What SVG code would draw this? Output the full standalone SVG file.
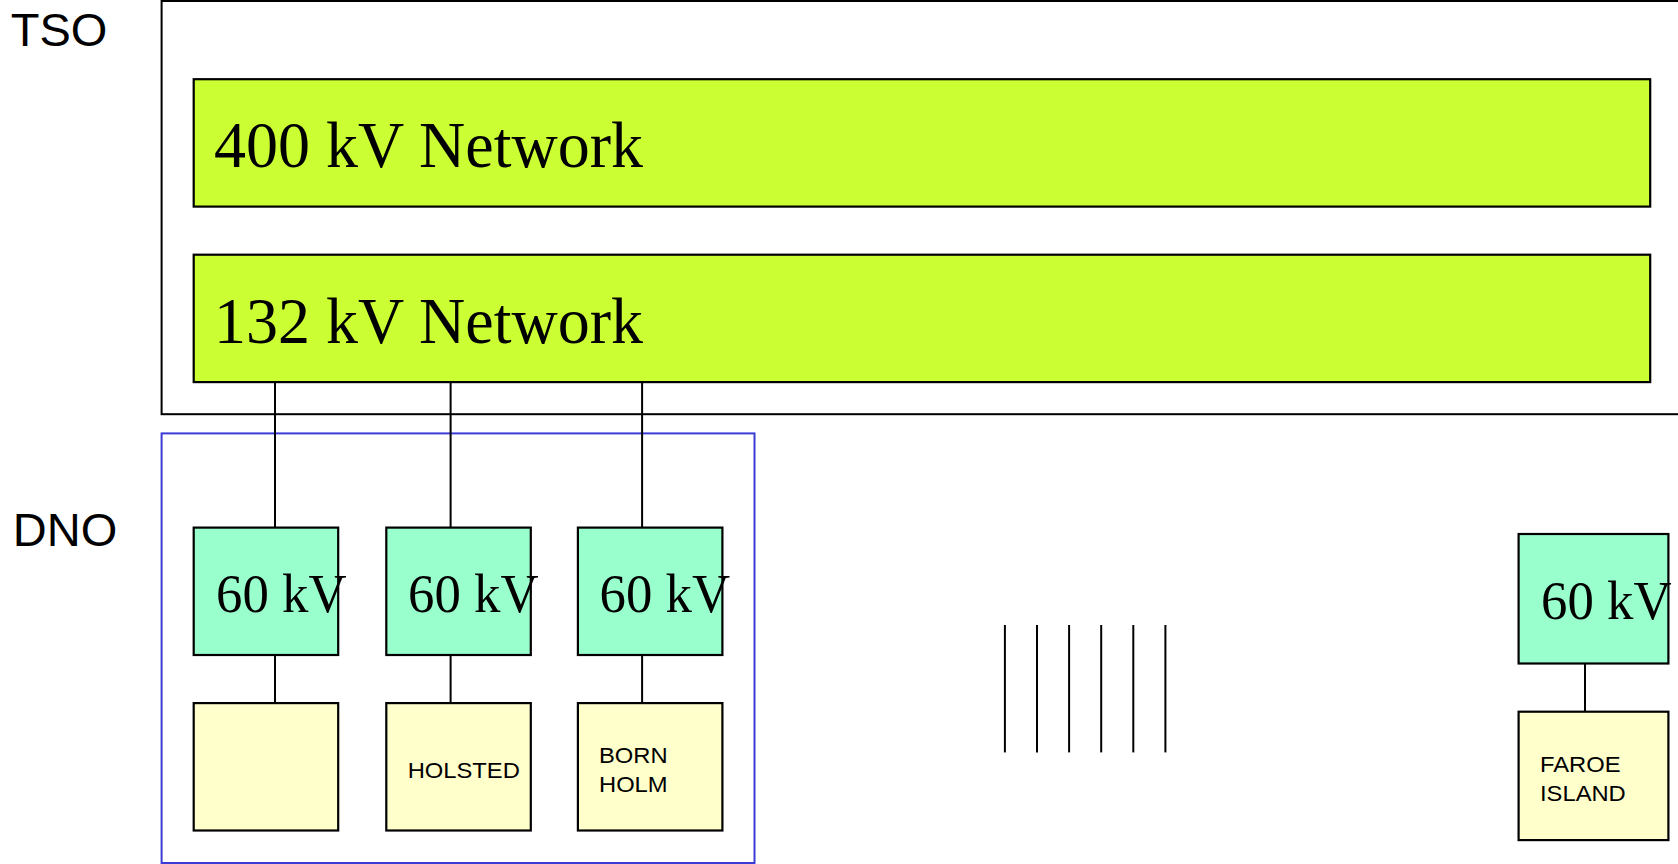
<svg xmlns="http://www.w3.org/2000/svg" width="1678" height="864" viewBox="0 0 1678 864">
<style>
.frame{fill:none;stroke:#000;stroke-width:2}
.net{fill:#CCFF33;stroke:#000;stroke-width:2.2}
.kv{fill:#99FFCC;stroke:#000;stroke-width:2.2}
.area{fill:#FFFFCC;stroke:#000;stroke-width:2.2}
.dno{fill:none;stroke:#3B3BD6;stroke-width:2}
.conn line{stroke:#000;stroke-width:2}
.lbl{font-family:"Liberation Sans",Arial,sans-serif;font-size:47px;fill:#000}
.big{font-family:"Liberation Serif","Times New Roman",serif;font-size:66px;fill:#000}
.mid{font-family:"Liberation Serif","Times New Roman",serif;font-size:55px;fill:#000}
.small{font-family:"Liberation Sans",Arial,sans-serif;font-size:22px;fill:#000}
</style>
<rect width="1678" height="864" fill="#fff"/>
<g id="tso">
<rect class="frame" x="161.6" y="1" width="1530" height="413.2"/>
<text class="lbl" x="10.7" y="46">TSO</text>
</g>
<g id="dno">
<rect class="dno" x="161.6" y="433.4" width="592.9" height="429.6"/>
<text class="lbl" x="12.8" y="546">DNO</text>
</g>
<g class="conn" id="connectors">
<line x1="275" y1="382.1" x2="275" y2="527.6"/>
<line x1="450.6" y1="382.1" x2="450.6" y2="527.6"/>
<line x1="642.1" y1="382.1" x2="642.1" y2="527.6"/>
<line x1="275" y1="655" x2="275" y2="703.1"/>
<line x1="450.6" y1="655" x2="450.6" y2="703.1"/>
<line x1="642.1" y1="655" x2="642.1" y2="703.1"/>
<line x1="1585" y1="663.5" x2="1585" y2="711.7"/>
<line x1="1004.9" y1="625" x2="1004.9" y2="752.4"/>
<line x1="1037" y1="625" x2="1037" y2="752.4"/>
<line x1="1069.1" y1="625" x2="1069.1" y2="752.4"/>
<line x1="1101.2" y1="625" x2="1101.2" y2="752.4"/>
<line x1="1133.3" y1="625" x2="1133.3" y2="752.4"/>
<line x1="1165.4" y1="625" x2="1165.4" y2="752.4"/>
</g>
<g id="net400">
<rect class="net" x="193.7" y="79.2" width="1456.5" height="127.4"/>
<text class="big" transform="translate(214 167) scale(0.97 1)">400 kV Network</text>
</g>
<g id="net132">
<rect class="net" x="193.7" y="254.7" width="1456.5" height="127.4"/>
<text class="big" transform="translate(214 343) scale(0.97 1)">132 kV Network</text>
</g>
<g id="kv60a">
<rect class="kv" x="193.7" y="527.6" width="144.5" height="127.4"/>
<text class="mid" transform="translate(216 612) scale(0.96 1)">60 kV</text>
</g>
<g id="kv60b">
<rect class="kv" x="386.3" y="527.6" width="144.5" height="127.4"/>
<text class="mid" transform="translate(408 612) scale(0.96 1)">60 kV</text>
</g>
<g id="kv60c">
<rect class="kv" x="577.9" y="527.6" width="144.5" height="127.4"/>
<text class="mid" transform="translate(599.5 612) scale(0.96 1)">60 kV</text>
</g>
<g id="kv60d">
<rect class="kv" x="1518.6" y="534" width="149.8" height="129.5"/>
<text class="mid" transform="translate(1541 618.6) scale(0.96 1)">60 kV</text>
</g>
<g id="areaA">
<rect class="area" x="193.7" y="703.1" width="144.5" height="127.4"/>
</g>
<g id="holsted">
<rect class="area" x="386.3" y="703.1" width="144.5" height="127.4"/>
<text class="small" transform="translate(407.7 777.5) scale(1.08 1)">HOLSTED</text>
</g>
<g id="bornholm">
<rect class="area" x="577.9" y="703.1" width="144.5" height="127.4"/>
<text class="small" transform="translate(599 763) scale(1.08 1)">BORN</text>
<text class="small" transform="translate(599 792) scale(1.08 1)">HOLM</text>
</g>
<g id="faroe">
<rect class="area" x="1518.6" y="711.7" width="149.8" height="128.4"/>
<text class="small" transform="translate(1540 771.6) scale(1.08 1)">FAROE</text>
<text class="small" transform="translate(1540 800.5) scale(1.08 1)">ISLAND</text>
</g>
</svg>
